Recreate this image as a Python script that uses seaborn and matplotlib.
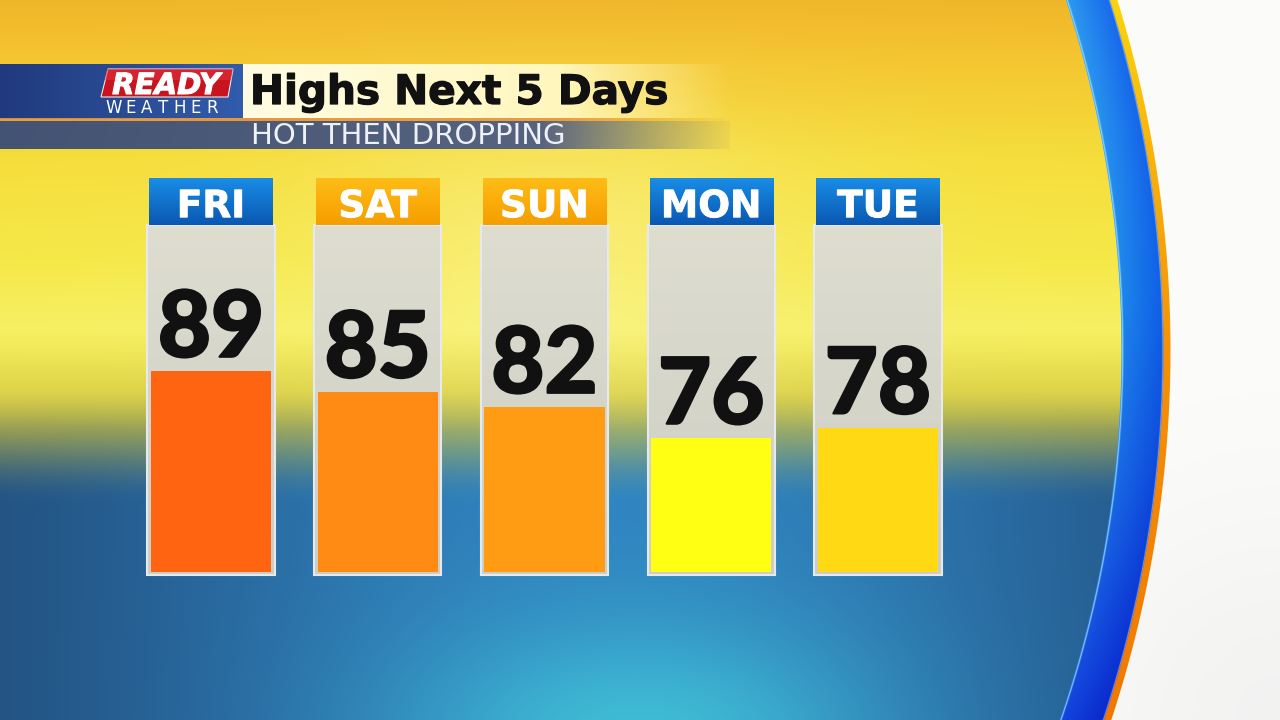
import numpy as np
import matplotlib
matplotlib.use("Agg")
import matplotlib.pyplot as plt
import matplotlib.patheffects as pe
import seaborn as sns
from matplotlib.patches import Polygon, Rectangle

# Chart data
days = ["FRI", "SAT", "SUN", "MON", "TUE"]
highs = [89, 85, 82, 76, 78]
bar_colors = ["#ff6510", "#ff8a14", "#ff9c14", "#ffff14", "#ffda14"]
header_kind = ["blue", "orange", "orange", "blue", "blue"]
title = "Highs Next 5 Days"
subtitle = "HOT THEN DROPPING"

sns.set_theme(style="white")

H, W = 720, 1280
Y, X = np.mgrid[0:H, 0:W].astype(float)


def interp_stops(v, pos, cols):
    cols = np.array(cols, float)
    return np.stack([np.interp(v, pos, cols[:, c]) for c in range(3)], axis=-1)


def blend(a, b, w):
    w = np.asarray(w)[..., None]
    return a * (1 - w) + np.asarray(b, float) * w


def solid(c):
    return np.broadcast_to(np.array(c, float), (H, W, 3))


# --- background: sunny sky over blue water ---
yellow = interp_stops(Y, [0, 60, 160, 260, 330, 350, 390, 430],
                      [(240, 182, 42), (244, 198, 48), (245, 222, 60), (245, 232, 72),
                       (246, 240, 100), (240, 232, 88), (222, 212, 74), (200, 188, 64)])
sun = np.exp(-((X - 560) / 260) ** 2 - ((Y - 250) / 140) ** 2) * 0.35
yellow = blend(yellow, (255, 250, 200), sun)

a = np.exp(-((X - 620) / 560) ** 2)
blue = blend(solid((30, 64, 108)), (48, 132, 192), a)
glow = np.exp(-((X - 640) / 230) ** 2 - ((Y - 740) / 120) ** 2) * 0.9
blue = blend(blue, (65, 195, 215), glow)

t = np.clip((Y - 385) / 120, 0, 1)
t = t * t * (3 - 2 * t)
img = yellow * (1 - t[..., None]) + blue * t[..., None]

# --- right-hand arc ---
cx, cy = -12, 350
d = np.hypot(X - cx, Y - cy)
R_in, R_or, R_out = 1133, 1175, 1182
rf = np.clip((d - R_in) / (R_or - R_in), 0, 1)
ring_a = interp_stops(Y, [0, 300, 720], [(45, 155, 240), (30, 135, 235), (20, 70, 220)])
ring_b = interp_stops(Y, [0, 300, 720], [(25, 105, 235), (15, 95, 230), (10, 40, 205)])
ring = ring_a * (1 - rf[..., None]) + ring_b * rf[..., None]
orange = interp_stops(Y, [0, 200, 360, 720], [(252, 212, 10), (248, 170, 10), (245, 145, 5), (240, 120, 0)])
white = blend(solid((252, 252, 251)), (205, 205, 205),
              np.exp(-((X - 1280) / 220) ** 2 - ((Y - 720) / 220) ** 2) * 0.2)

ai = np.clip(d - R_in + 0.5, 0, 1)
img = img * (1 - ai[..., None]) + ring * ai[..., None]
img = blend(img, (150, 225, 255), np.exp(-((d - R_in - 1.2) / 0.9) ** 2) * 0.75)
img = blend(img, (200, 220, 255), np.exp(-((d - R_or + 0.5) / 0.8) ** 2) * 0.5)
ao = np.clip(d - R_or + 0.5, 0, 1)
img = img * (1 - ao[..., None]) + orange * ao[..., None]
aw = np.clip(d - R_out + 0.5, 0, 1)
img = img * (1 - aw[..., None]) + white * aw[..., None]

# --- title banner ---
m = (X < 243) & (Y >= 64) & (Y < 119)
bluebox = blend(solid((32, 58, 125)), (50, 92, 172), np.clip(X / 243, 0, 1))
img[m] = bluebox[m]
fade = np.clip((730 - X) / 170, 0, 1)
m = (X >= 243) & (Y >= 64) & (Y < 118)
cream = blend(solid((255, 252, 228)), (255, 244, 170), np.clip((X - 243) / 480, 0, 1))
img[m] = (img * (1 - fade[..., None]) + cream * fade[..., None])[m]
m = (Y >= 118) & (Y < 121) & (X < 730)
gl = np.clip(0.9 * fade + 0.6 * np.exp(-((X - 243) / 40) ** 2), 0, 1)
img[m] = blend(img, (232, 150, 60), gl)[m]
m = (Y >= 121) & (Y < 149) & (X < 730)
sub = blend(solid((58, 76, 118)), (85, 98, 135), np.clip(X / 730, 0, 1))
fade2 = np.clip((740 - X) / 200, 0, 1) * 0.95
img[m] = (img * (1 - fade2[..., None]) + sub * fade2[..., None])[m]

img = np.clip(img / 255, 0, 1)

fig = plt.figure(figsize=(12.8, 7.2), dpi=100)
bg = fig.add_axes([0, 0, 1, 1])
bg.imshow(img, extent=(0, W, H, 0), aspect="auto", interpolation="bilinear")
bg.set_xlim(0, W)
bg.set_ylim(H, 0)
bg.axis("off")

# READY WEATHER logo
bg.add_patch(Polygon([(108, 69), (233, 69), (228, 97), (101, 97)], closed=True,
                     facecolor="#c8141e", edgecolor="#e8e8e8", linewidth=0.8))
bg.add_patch(Polygon([(107, 69), (233, 69), (231, 80), (105, 80)], closed=True,
                     facecolor="#e0303a", edgecolor="none", alpha=0.6))
bg.text(166, 94, "READY", ha="center", va="baseline", fontsize=21, fontweight="bold",
        fontstyle="italic", family="DejaVu Sans", color="white",
        path_effects=[pe.withStroke(linewidth=0.8, foreground="white")])
for k, ch in enumerate("WEATHER"):
    bg.text(114 + k * 16.3, 113, ch, ha="center", va="baseline", fontsize=12,
            family="DejaVu Sans", color="white")

t1 = bg.text(250, 104, title, ha="left", va="baseline", fontsize=28, fontweight="bold",
             family="DejaVu Sans", color="#111111",
             path_effects=[pe.withStroke(linewidth=0.9, foreground="#111111")])
t2 = bg.text(251, 144, subtitle, ha="left", va="baseline", fontsize=17,
             family="DejaVu Sans", color="#eef2f8")

# fit title widths to the reference
fig.canvas.draw()
r = fig.canvas.get_renderer()
for txt, target in [(t1, 418), (t2, 317)]:
    w = txt.get_window_extent(r).width
    txt.set_fontsize(txt.get_fontsize() * target / w)

# --- bars ---
x0, pitch = 211, 166.75
ax = fig.add_axes([(x0 - pitch / 2) / W, 148 / H, pitch * 5 / W, 412 / H])
ax.patch.set_alpha(0)

panel_top, head_top = 117.4, 126.5
for i, kind in enumerate(header_kind):
    pg = interp_stops(np.linspace(0, 1, 64), [0, 1], [(222, 221, 208), (204, 205, 196)])[:, None, :] / 255
    ax.imshow(pg, extent=(i - 0.381, i + 0.381, 49.5, panel_top), aspect="auto",
              zorder=0.5, clip_on=False)
    ax.add_patch(Rectangle((i - 0.381, 49.5), 0.762, panel_top - 49.5, fill=False,
                           edgecolor="#e6eaee", linewidth=1.5, zorder=0.6, clip_on=False))
    if kind == "blue":
        hc = [(25, 140, 230), (10, 88, 178)]
    else:
        hc = [(255, 188, 22), (245, 158, 0)]
    hg = interp_stops(np.linspace(0, 1, 32), [0, 1], hc)[:, None, :] / 255
    ax.imshow(hg, extent=(i - 0.37, i + 0.37, panel_top, head_top), aspect="auto",
              zorder=0.7, clip_on=False)

sns.barplot(x=days, y=highs, hue=days, palette=bar_colors, order=days, width=0.72,
            saturation=1, legend=False, linewidth=0, ax=ax, zorder=1)

for i, (day, v) in enumerate(zip(days, highs)):
    ax.text(i, v + 2.8, str(v), ha="center", va="baseline", fontsize=66,
            fontweight="black", family="Lato", color="#111111", zorder=3,
            path_effects=[pe.withStroke(linewidth=1.6, foreground="#111111")])
    ax.text(i, 118.9, day, ha="center", va="baseline", fontsize=27,
            fontweight="bold", family="DejaVu Sans", color="white", zorder=3,
            path_effects=[pe.withStroke(linewidth=0.6, foreground="white")])

ax.set_xlim(-0.5, 4.5)
ax.set_ylim(50, 130)
ax.axis("off")

fig.savefig("out.png", dpi=100)
